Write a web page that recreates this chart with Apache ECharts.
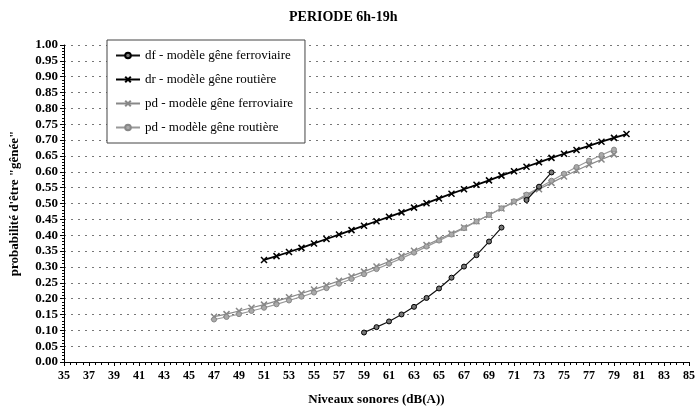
<!DOCTYPE html>
<html>
<head>
<meta charset="utf-8">
<script src="https://cdn.jsdelivr.net/npm/echarts@6/dist/echarts.min.js"></script>
<style>
  html, body { margin: 0; padding: 0; background: #fff; }
  #chart { width: 698px; height: 411px; }
</style>
</head>
<body>
<div id="chart"></div>
<script>
// Annoyance probability vs. noise level, daytime period
const xTicks = [35, 37, 39, 41, 43, 45, 47, 49, 51, 53, 55, 57, 59, 61, 63, 65, 67, 69, 71, 73, 75, 77, 79, 81, 83, 85];

const dfLevels = [59, 60, 61, 62, 63, 64, 65, 66, 67, 68, 69, 70, 71, 72, 73, 74];
const dfValues = [0.093, 0.110, 0.128, 0.150, 0.174, 0.202, 0.232, 0.266, 0.301, 0.337, 0.380, 0.424, null, 0.511, 0.553, 0.598];

const drLevels = [51, 52, 53, 54, 55, 56, 57, 58, 59, 60, 61, 62, 63, 64, 65, 66, 67, 68, 69, 70, 71, 72, 73, 74, 75, 76, 77, 78, 79, 80];
const drValues = [0.322, 0.334, 0.347, 0.360, 0.374, 0.388, 0.402, 0.416, 0.430, 0.444, 0.458, 0.472, 0.487, 0.501, 0.516, 0.531, 0.545, 0.559, 0.573, 0.588, 0.602, 0.616, 0.630, 0.644, 0.657, 0.669, 0.682, 0.695, 0.707, 0.719];

const pdLevels = [47, 48, 49, 50, 51, 52, 53, 54, 55, 56, 57, 58, 59, 60, 61, 62, 63, 64, 65, 66, 67, 68, 69, 70, 71, 72, 73, 74, 75, 76, 77, 78, 79];
const pdFerroValues = [0.143, 0.151, 0.161, 0.171, 0.181, 0.192, 0.204, 0.216, 0.229, 0.242, 0.256, 0.270, 0.285, 0.301, 0.317, 0.334, 0.351, 0.369, 0.387, 0.405, 0.424, 0.444, 0.464, 0.484, 0.504, 0.524, 0.545, 0.565, 0.585, 0.604, 0.622, 0.639, 0.655];
const pdRouteValues = [0.134, 0.142, 0.151, 0.161, 0.171, 0.182, 0.194, 0.206, 0.219, 0.233, 0.247, 0.262, 0.277, 0.293, 0.310, 0.327, 0.345, 0.364, 0.383, 0.402, 0.422, 0.443, 0.464, 0.485, 0.507, 0.528, 0.550, 0.572, 0.594, 0.615, 0.635, 0.653, 0.670];

const seriesNames = [
  'df - modèle gêne ferroviaire',
  'dr - modèle gêne routière',
  'pd - modèle gêne ferroviaire',
  'pd - modèle gêne routière'
];

function pairs(xs, ys) {
  return xs.map((x, i) => [x, ys[i]]);
}

const serif = '"Liberation Serif", "DejaVu Serif", serif';
const crossPath = 'path://M0,0L10,10M10,0L0,10';

const chart = echarts.init(document.getElementById('chart'), null, { renderer: 'canvas' });

chart.setOption({
  animation: false,
  backgroundColor: '#fff',
  title: {
    text: 'PERIODE 6h-19h',
    left: 284,
    top: 5,
    textStyle: { fontFamily: serif, fontWeight: 'bold', fontSize: 14, color: '#000' }
  },
  legend: {
    orient: 'vertical',
    left: 107,
    top: 40,
    width: 196,
    padding: [9, 12, 9, 8],
    itemGap: 11,
    itemWidth: 24,
    itemHeight: 7,
    backgroundColor: '#fff',
    borderColor: '#444',
    borderWidth: 1,
    borderRadius: 0,
    textStyle: { fontFamily: serif, fontSize: 13, color: '#000' },
    data: seriesNames
  },
  grid: { left: 61, right: 8, top: 45, bottom: 45, containLabel: false },
  xAxis: {
    type: 'value',
    min: xTicks[0],
    max: xTicks[xTicks.length - 1],
    interval: 2,
    name: 'Niveaux sonores (dB(A))',
    nameLocation: 'middle',
    nameGap: 31,
    nameTextStyle: { fontFamily: serif, fontWeight: 'bold', fontSize: 13, color: '#000' },
    axisLine: { show: true, lineStyle: { color: '#000', width: 1 } },
    axisTick: { show: true, length: 4, lineStyle: { color: '#000' } },
    minorTick: { show: true, splitNumber: 4, length: 3, lineStyle: { color: '#000' } },
    axisLabel: { fontFamily: serif, fontWeight: 'bold', fontSize: 12, color: '#000', margin: 8 },
    splitLine: { show: false }
  },
  yAxis: {
    type: 'value',
    min: 0,
    max: 1,
    interval: 0.05,
    name: 'probabilité d\'être "gênée"',
    nameLocation: 'middle',
    nameGap: 43,
    nameTextStyle: { fontFamily: serif, fontWeight: 'bold', fontSize: 13, color: '#000' },
    axisLine: { show: true, lineStyle: { color: '#000', width: 1 } },
    axisTick: { show: true, length: 4, lineStyle: { color: '#000' } },
    minorTick: { show: true, splitNumber: 5, length: 2, lineStyle: { color: '#000' } },
    axisLabel: {
      fontFamily: serif, fontWeight: 'bold', fontSize: 13, color: '#000', margin: 6,
      formatter: v => v.toFixed(2)
    },
    splitLine: { show: true, lineStyle: { color: '#777', type: [2, 5], width: 1 } }
  },
  series: [
    {
      name: seriesNames[0],
      type: 'line',
      data: pairs(dfLevels, dfValues),
      connectNulls: false,
      symbol: 'circle',
      symbolSize: 5,
      color: '#000',
      lineStyle: { color: '#111', width: 1.2 },
      itemStyle: { color: '#777', borderColor: '#000', borderWidth: 1 },
      z: 4
    },
    {
      name: seriesNames[1],
      type: 'line',
      data: pairs(drLevels, drValues),
      symbol: crossPath,
      symbolSize: 6,
      color: '#000',
      lineStyle: { color: '#000', width: 1.8 },
      itemStyle: { color: '#000', borderColor: '#000', borderWidth: 1.5 },
      z: 3
    },
    {
      name: seriesNames[2],
      type: 'line',
      data: pairs(pdLevels, pdFerroValues),
      symbol: crossPath,
      symbolSize: 6,
      color: '#888',
      lineStyle: { color: '#888', width: 1.2 },
      itemStyle: { color: '#888', borderColor: '#888', borderWidth: 1.5 },
      z: 2
    },
    {
      name: seriesNames[3],
      type: 'line',
      data: pairs(pdLevels, pdRouteValues),
      symbol: 'circle',
      symbolSize: 5,
      color: '#999',
      lineStyle: { color: '#999', width: 1.2 },
      itemStyle: { color: '#aaa', borderColor: '#888', borderWidth: 1 },
      z: 2
    }
  ]
});
</script>
</body>
</html>
